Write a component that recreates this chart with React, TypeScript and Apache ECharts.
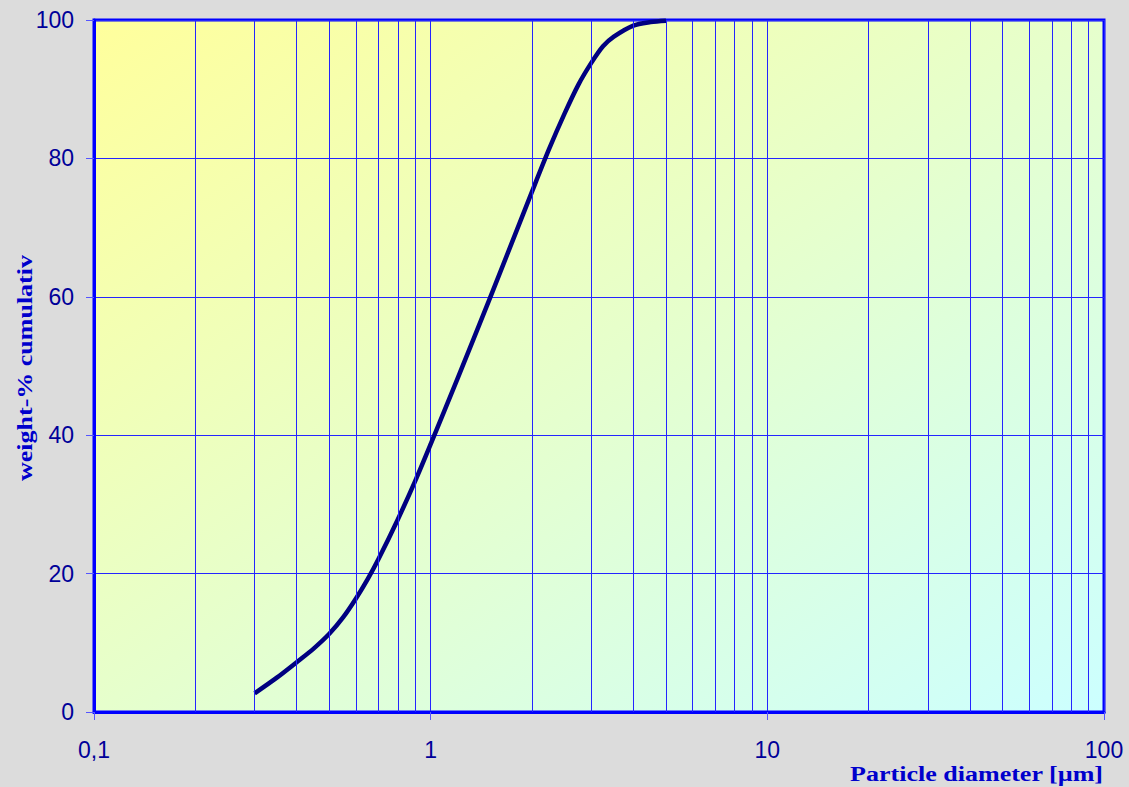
import React, { useEffect, useRef } from "react";
import * as echarts from "echarts";

const diameters = [0.3, 0.35, 0.4, 0.45, 0.5, 0.55, 0.6, 0.65, 0.7, 0.8, 0.9, 1.0, 1.2, 1.5, 2.0, 2.25, 2.5, 2.75, 3.0, 3.25, 3.5, 4.0, 4.5, 5.0];
const cumulative = [2.7, 5.0, 7.2, 9.2, 11.3, 13.7, 16.4, 19.2, 22.1, 27.9, 33.4, 38.7, 48.1, 59.8, 75.2, 81.4, 86.5, 90.7, 93.8, 96.2, 97.6, 99.2, 99.7, 99.9];
const minorGrid = [0.2, 0.3, 0.4, 0.5, 0.6, 0.7, 0.8, 0.9, 2, 3, 4, 5, 6, 7, 8, 9, 20, 30, 40, 50, 60, 70, 80, 90];
const xTickLabels: Record<string, string> = { "0.1": "0,1", "1": "1", "10": "10", "100": "100" };
const yAxisTitle = "weight-% cumulativ";
const xAxisTitle = "Particle diameter [µm]";

export default function App() {
  const ref = useRef<HTMLDivElement>(null);
  useEffect(() => {
    if (!ref.current) return;
    const chart = echarts.init(ref.current, undefined, { renderer: "svg" });
    const gridBlue = "#2424ff";
    const labelFont = "'Liberation Sans', Arial, sans-serif";
    const titleFont = "'Liberation Serif', 'Times New Roman', serif";
    chart.setOption({
      animation: false,
      backgroundColor: "#dcdcdc",
      grid: {
        left: 94,
        top: 20,
        right: 25,
        bottom: 75,
        show: true,
        borderColor: "#0000ff",
        borderWidth: 3,
        backgroundColor: new echarts.graphic.LinearGradient(0, 0, 1, 1, [
          { offset: 0, color: "#ffff9c" },
          { offset: 0.5, color: "#e6ffcc" },
          { offset: 1, color: "#ccffff" },
        ]),
      },
      xAxis: {
        type: "log",
        logBase: 10,
        min: 0.1,
        max: 100,
        axisLine: { show: true, lineStyle: { color: "#0000ff", width: 3 } },
        axisTick: { show: true, length: 8, lineStyle: { color: "#5555ff", width: 1 } },
        splitLine: { show: true, lineStyle: { color: gridBlue, width: 1 } },
        axisLabel: {
          margin: 26,
          color: "#000099",
          fontSize: 23,
          fontFamily: labelFont,
          formatter: (v: number) => xTickLabels[String(v)] ?? String(v),
        },
      },
      yAxis: {
        type: "value",
        min: 0,
        max: 100,
        interval: 20,
        axisLine: { show: true, lineStyle: { color: "#0000ff", width: 3 } },
        axisTick: { show: true, length: 8, lineStyle: { color: "#5555ff", width: 1 } },
        splitLine: { show: true, lineStyle: { color: gridBlue, width: 1 } },
        axisLabel: {
          margin: 20,
          color: "#000099",
          fontSize: 23,
          fontFamily: labelFont,
        },
      },
      graphic: [
        {
          type: "text",
          x: 25,
          y: 368,
          rotation: Math.PI / 2,
          scaleX: 1.3,
          style: {
            text: yAxisTitle,
            fill: "#0000cc",
            font: `bold 20px ${titleFont}`,
            align: "center",
            verticalAlign: "middle",
          },
        },
        {
          type: "text",
          x: 1103,
          y: 763,
          scaleX: 1.24,
          style: {
            text: xAxisTitle,
            fill: "#0000cc",
            font: `bold 21px ${titleFont}`,
            align: "right",
            verticalAlign: "top",
          },
        },
      ],
      series: [
        {
          type: "line",
          data: [],
          z: 1,
          silent: true,
          markLine: {
            silent: true,
            symbol: ["none", "none"],
            label: { show: false },
            lineStyle: { color: gridBlue, width: 1, type: "solid" },
            data: minorGrid.map((v) => ({ xAxis: v })),
          },
        },
        {
          type: "line",
          z: 3,
          smooth: 0.3,
          showSymbol: false,
          lineStyle: { color: "#000080", width: 4.5 },
          data: diameters.map((d, i) => [d, cumulative[i]]),
        },
      ],
    });
    return () => chart.dispose();
  }, []);
  return <div ref={ref} style={{ position: "fixed", left: 0, top: 0, width: 1129, height: 787 }} />;
}
